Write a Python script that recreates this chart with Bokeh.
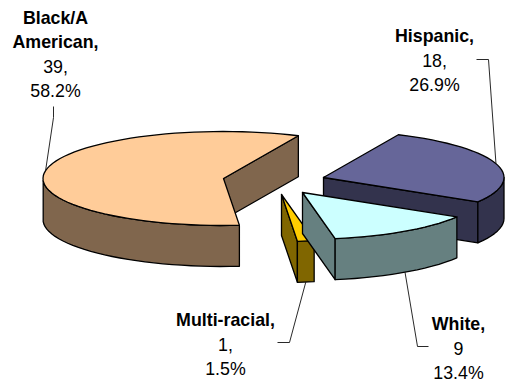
import numpy as np
from bokeh.embed import file_html
from bokeh.models import Range1d
from bokeh.plotting import figure
from bokeh.resources import INLINE

# Enrolment by group, in the order the slices run clockwise
categories = ["Hispanic", "White", "Multi-racial", "Black/A American"]
counts = [18, 9, 1, 39]
percents = ["26.9%", "13.4%", "1.5%", "58.2%"]

# Label lines: bold name, then count and share
name_lines = [["Hispanic,"], ["White,"], ["Multi-racial,"], ["Black/A", "American,"]]
count_lines = ["18,", "9", "1,", "39,"]

# Slice styling
top_colors = ["#666699", "#CCFFFF", "#FFCC00", "#FFCC99"]
side_colors = ["#33334D", "#668080", "#806600", "#80664D"]

# Layout of the exploded, tilted pie (in page pixels)
RX, RY, DEPTH = 180.5, 47, 41
START_DEG = 65.5
apex_x = [323, 302, 281, 223]
apex_y = [177, 192, 194, 178]
draw_order = [3, 0, 2, 1]

# Leader elbows and label anchors
elbows = [[(488, 59), (476, 59)], [(417, 346), (428, 346)],
          [(289, 342), (277, 342)], [(53, 117), (53, 106)]]
label_x = [434, 458, 225, 55]
label_y = [35, 323, 319, 17]
LINE_GAP = 24.5
FONT_PX = "17.8px"

W, H = 506, 381
p = figure(width=W, height=H, output_backend="svg", toolbar_location=None,
           x_range=Range1d(0, W), y_range=Range1d(H, 0), min_border=0)
p.axis.visible = False
p.grid.visible = False
p.outline_line_color = None
p.background_fill_color = "white"

sweeps = 360 * np.array(counts) / sum(counts)
ends = START_DEG - np.cumsum(sweeps)
starts = ends + sweeps


def rim(cx, cy, deg):
    t = np.radians(deg)
    return cx + RX * np.cos(t), cy - RY * np.sin(t)


OUTLINE = dict(line_color="black", line_width=1.3, line_join="round")

for i in draw_order:
    cx, cy = apex_x[i], apex_y[i]
    t0, t1 = starts[i], ends[i]
    arc = np.linspace(t0, t1, max(int(abs(t0 - t1) / 3), 4))

    # Cut face on the clockwise edge of the slice
    ex, ey = rim(cx, cy, t1)
    p.patch([cx, ex, ex, cx], [cy, ey, ey + DEPTH, cy + DEPTH],
            fill_color=side_colors[i], **OUTLINE)

    # Curved rim wall, only where it faces the viewer
    front = arc[np.sin(np.radians(arc)) <= 0]
    if len(front) > 1:
        fx, fy = rim(cx, cy, front)
        p.patch(np.r_[fx, fx[::-1]], np.r_[fy, fy[::-1] + DEPTH],
                fill_color=side_colors[i], **OUTLINE)

    # Top face
    ax, ay = rim(cx, cy, arc)
    p.patch(np.r_[cx, ax], np.r_[cy, ay], fill_color=top_colors[i], **OUTLINE)

    # Leader from the middle of the slice's rim to its label
    mid = (t0 + t1) / 2
    mx, my = rim(cx, cy, mid)
    if np.sin(np.radians(mid)) < 0 and mid < -45:
        my += DEPTH
    xs = [mx] + [e[0] for e in elbows[i]]
    ys = [my] + [e[1] for e in elbows[i]]
    p.line(xs, ys, line_color="#111111", line_width=0.9)

    # Label block
    y = label_y[i]
    for line in name_lines[i]:
        p.text([label_x[i]], [y], text=[line], text_font_size=FONT_PX, text_font_style="bold",
               text_align="center", text_baseline="middle", text_color="black",
               text_font={"value": "Liberation Sans"})
        y += LINE_GAP
    for line in (count_lines[i], percents[i]):
        p.text([label_x[i]], [y], text=[line], text_font_size=FONT_PX,
               text_align="center", text_baseline="middle", text_color="black",
               text_font={"value": "Liberation Sans"})
        y += LINE_GAP

open("out.html", "w").write(file_html(p, INLINE))
